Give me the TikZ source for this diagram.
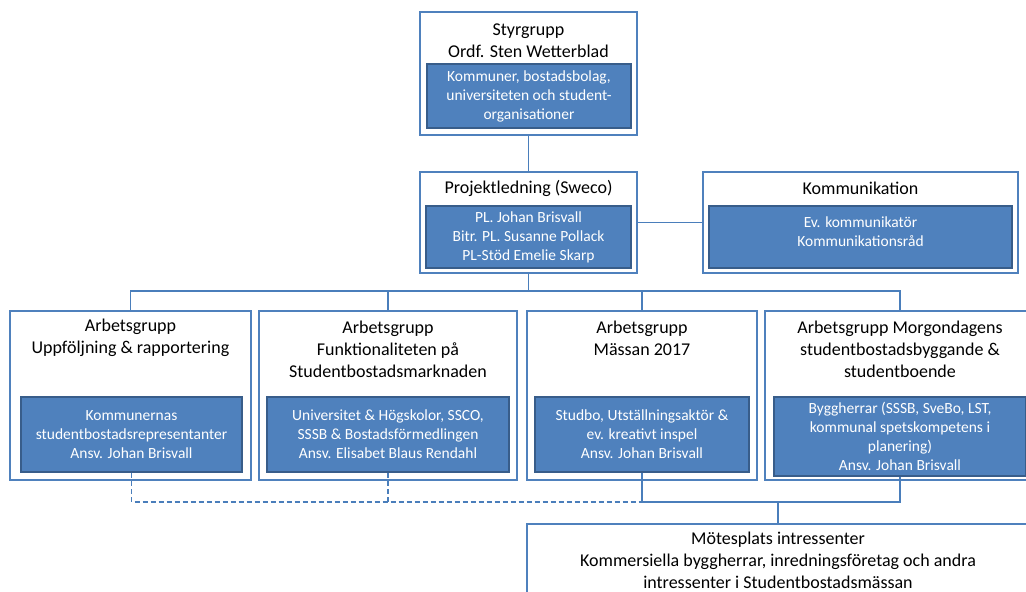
\documentclass[tikz,border=0pt]{standalone}
\usepackage{fontspec}
\setmainfont{Carlito}

\definecolor{boxblue}{RGB}{79,129,189}
\definecolor{edgeblue}{RGB}{56,93,138}
\definecolor{linkblue}{RGB}{74,126,187}

\tikzset{
  outerbox/.style={draw=boxblue, line width=2.5pt, fill=white, inner sep=0pt,
    align=center, font=\fontsize{18}{22}\selectfont},
  innerbox/.style={draw=edgeblue, line width=2pt, fill=boxblue, text=white,
    align=center, inner sep=0pt, font=\fontsize{15.5}{19}\selectfont},
  headtext/.style={align=center, font=\fontsize{18}{22}\selectfont},
}

\begin{document}
\begin{tikzpicture}[x=1pt, y=-1pt]
    \clip (0,0) rectangle (1026,592);
    %% Draw the outer boxes
    \node[outerbox, minimum width=217, minimum height=123] (styr) at (528.5,73.5) {};
    \node[outerbox, minimum width=217, minimum height=101] (proj) at (528.5,222.5) {};
    \node[outerbox, minimum width=315, minimum height=101] (komm) at (860.5,222.5) {};
    \node[outerbox, minimum width=241, minimum height=169] (grp1) at (130.5,395.5) {};
    \node[outerbox, minimum width=258, minimum height=169] (grp2) at (388,395.5) {};
    \node[outerbox, minimum width=230, minimum height=169] (grp3) at (642,395.5) {};
    \node[outerbox, minimum width=270, minimum height=169] (grp4) at (900,395.5) {};
    \node[outerbox, minimum width=502, minimum height=80, text depth=7pt] (mot) at (778,564)
      {Mötesplats intressenter\\Kommersiella byggherrar, inredningsföretag och andra\\intressenter i Studentbostadsmässan};
    %% Draw the box titles
    \node[headtext] (styrT) at (528.5,41) {Styrgrupp\\Ordf. Sten Wetterblad};
    \node[headtext] (projT) at (528.5,188) {Projektledning (Sweco)};
    \node[headtext] (kommT) at (860.5,188) {Kommunikation};
    \node[headtext] (grp1T) at (130.5,338) {Arbetsgrupp\\Uppföljning \& rapportering};
    \node[headtext] (grp2T) at (388,349) {Arbetsgrupp\\Funktionaliteten på\\Studentbostadsmarknaden};
    \node[headtext] (grp3T) at (642,338) {Arbetsgrupp\\Mässan 2017};
    \node[headtext] (grp4T) at (900,349) {Arbetsgrupp Morgondagens\\studentbostadsbyggande \&\\studentboende};
    %% Draw the member boxes
    \node[innerbox, minimum width=204, minimum height=64] (styrI) at (529,96)
      {Kommuner, bostadsbolag,\\universiteten och student-\\organisationer};
    \node[innerbox, minimum width=205, minimum height=62] (projI) at (528.5,237)
      {PL. Johan Brisvall\\Bitr. PL. Susanne Pollack\\PL-Stöd Emelie Skarp};
    \node[innerbox, minimum width=303, minimum height=62, text depth=11pt] (kommI) at (860.5,237)
      {Ev. kommunikatör\\Kommunikationsråd};
    \node[innerbox, minimum width=221, minimum height=75] (grp1I) at (131.5,434.5)
      {Kommunernas\\studentbostadsrepresentanter\\Ansv. Johan Brisvall};
    \node[innerbox, minimum width=242, minimum height=75] (grp2I) at (388,434.5)
      {Universitet \& Högskolor, SSCO,\\SSSB \& Bostadsförmedlingen\\Ansv. Elisabet Blaus Rendahl};
    \node[innerbox, minimum width=214, minimum height=75] (grp3I) at (642,434.5)
      {Studbo, Utställningsaktör \&\\ev. kreativt inspel\\Ansv. Johan Brisvall};
    \node[innerbox, minimum width=252, minimum height=79] (grp4I) at (900,436.5)
      {Byggherrar (SSSB, SveBo, LST,\\kommunal spetskompetens i\\planering)\\Ansv. Johan Brisvall};
    %% Draw the connectors
    \coordinate (topbus) at (528.5,291);
    \coordinate (lowbus) at (778,502);
    \begin{scope}[every path/.style={draw=linkblue, line width=1.3pt}]
      \draw (styr) -- (proj);
      \draw (proj) -- (komm);
      \draw (proj) -- (topbus);
      \draw (grp1.north) -- (grp1.north |- topbus) -- (grp4.north |- topbus) -- (grp4.north);
      \draw (grp2.north) -- (grp2.north |- topbus);
      \draw (grp3.north) -- (grp3.north |- topbus);
      \draw[dash pattern=on 5pt off 3pt] (grp1I.south) -- (grp1I.south |- lowbus) -- (grp3I.south |- lowbus);
      \draw[dash pattern=on 5pt off 3pt] (grp2I.south) -- (grp2I.south |- lowbus);
      \draw (grp3I.south) -- (grp3I.south |- lowbus) -- (grp4I.south |- lowbus) -- (grp4I.south);
      \draw (lowbus) -- (mot);
    \end{scope}
\end{tikzpicture}
\end{document}
